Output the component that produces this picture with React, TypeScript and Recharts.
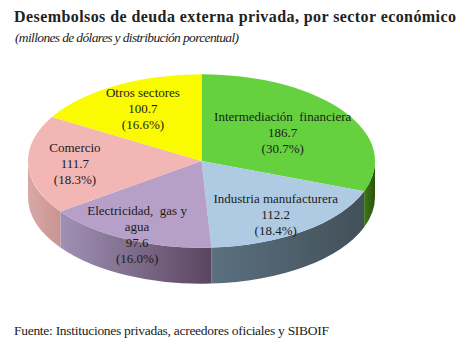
import { Pie, PieChart } from "recharts";

const sectors = [
  "Intermediación  financiera",
  "Industria manufacturera",
  "Electricidad,  gas y agua",
  "Comercio",
  "Otros sectores",
];
const amounts = [186.7, 112.2, 97.6, 111.7, 100.7];
const shares = ["30.7", "18.4", "16.0", "18.3", "16.6"];

// colours and label placement, slice by slice
const faceColors = ["#66d13f", "#aecbe3", "#b7a0c8", "#f2b6b4", "#fafa00"];
const wallFrom = ["#3d7a16", "#5c7080", "#a091b4", "#d9a9a7", "#fafa00"];
const wallTo = ["#2a5208", "#425058", "#5a4560", "#c99391", "#fafa00"];
const labelReach = [0.57, 0.72, 0.86, 0.73, 0.68];
const labelDrop = [0, 4, 7, 0, -1];

const SQUASH = 0.5;
const DEPTH = 36;
const FONT = "'Liberation Serif', serif";

const data = sectors.map((name, i) => ({
  name,
  value: amounts[i],
  share: shares[i],
  fill: faceColors[i],
}));

const point = (cx: number, cy: number, r: number, deg: number) => {
  const t = (deg * Math.PI) / 180;
  return [cx + r * Math.cos(t), cy - r * SQUASH * Math.sin(t)];
};

function Face(props: any) {
  const { cx, cy, outerRadius: r, startAngle, endAngle, fill } = props;
  const [x1, y1] = point(cx, cy, r, startAngle);
  const [x2, y2] = point(cx, cy, r, endAngle);
  const large = Math.abs(endAngle - startAngle) > 180 ? 1 : 0;
  return (
    <path
      d={`M${cx},${cy}L${x1},${y1}A${r},${r * SQUASH} 0 ${large} 1 ${x2},${y2}Z`}
      fill={fill}
    />
  );
}

// only the part of a slice facing the viewer gets a side wall
function Wall(props: any) {
  const { cx, cy, outerRadius: r, startAngle, endAngle, index } = props;
  const from = Math.min(startAngle, 0);
  const to = Math.max(endAngle, -180);
  if (from <= to) return null;
  const [x1, y1] = point(cx, cy, r, from);
  const [x2, y2] = point(cx, cy, r, to);
  const ry = r * SQUASH;
  return (
    <path
      d={`M${x1},${y1}A${r},${ry} 0 0 1 ${x2},${y2}L${x2},${y2 + DEPTH}A${r},${ry} 0 0 0 ${x1},${y1 + DEPTH}Z`}
      fill={`url(#wall${index})`}
    />
  );
}

function SliceLabel(props: any) {
  const { cx, cy, outerRadius, midAngle, index, name, value, payload } = props;
  const [x, py] = point(cx, cy, outerRadius * labelReach[index], midAngle);
  const y = py + labelDrop[index];
  const words: string[] =
    index === 2 ? ["Electricidad,  gas y", "agua"] : [name];
  const lines = [...words, String(value), `(${payload.share}%)`];
  return (
    <text
      x={x}
      y={y}
      textAnchor="middle"
      fontFamily={FONT}
      fontSize={13}
      fill="#1c1c1c"
      style={{ whiteSpace: "pre" }}
    >
      {lines.map((line, i) => (
        <tspan
          key={i}
          x={x}
          y={y + (i - (lines.length - 1) / 2) * 16 + 4}
        >
          {line}
        </tspan>
      ))}
    </text>
  );
}

export default function App() {
  return (
    <div
      style={{
        position: "absolute",
        left: 0,
        top: 0,
        width: 465,
        height: 352,
        background: "#fff",
      }}
    >
      <PieChart width={465} height={352} margin={{ top: 0, right: 0, bottom: 0, left: 0 }}>
        <defs>
          {sectors.map((_, i) => (
            <linearGradient key={i} id={`wall${i}`} x1="0" y1="0" x2="1" y2="0">
              <stop offset="0%" stopColor={wallFrom[i]} />
              <stop offset="100%" stopColor={wallTo[i]} />
            </linearGradient>
          ))}
        </defs>
        <text x={14} y={22} fontFamily={FONT} fontWeight="bold" fontSize={16} fill="#222" textLength={442}>
          Desembolsos de deuda externa privada, por sector económico
        </text>
        <text x={15} y={42} fontFamily={FONT} fontStyle="italic" fontSize={13.5} fill="#222" textLength={224}>
          (millones de dólares y distribución porcentual)
        </text>
        <text x={14} y={335} fontFamily={FONT} fontSize={13.5} fill="#222" textLength={315}>
          Fuente: Instituciones privadas, acreedores oficiales y SIBOIF
        </text>
        <Pie
          data={data}
          dataKey="value"
          cx={201.5}
          cy={161}
          innerRadius={0}
          outerRadius={173.5}
          startAngle={90}
          endAngle={-270}
          stroke="none"
          shape={Wall}
          isAnimationActive={false}
        />
        <Pie
          data={data}
          dataKey="value"
          cx={201.5}
          cy={161}
          innerRadius={0}
          outerRadius={173.5}
          startAngle={90}
          endAngle={-270}
          stroke="none"
          shape={Face}
          label={SliceLabel}
          labelLine={false}
          isAnimationActive={false}
        />
      </PieChart>
    </div>
  );
}
